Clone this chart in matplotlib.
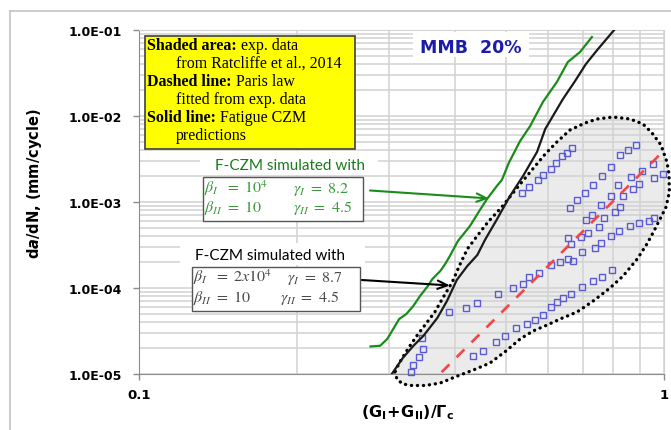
import matplotlib
matplotlib.use("Agg")
import matplotlib.pyplot as plt
from matplotlib.patches import Rectangle
from matplotlib.lines import Line2D
from matplotlib.ticker import LogLocator, NullFormatter

# ---------------- data ----------------
# Experimental scatter (Ratcliffe et al., 2014), MMB 20 %
exp_g = [0.330, 0.333, 0.342, 0.348, 0.346,
         0.390, 0.420, 0.440, 0.483, 0.515, 0.538, 0.554, 0.577, 0.609, 0.634, 0.655, 0.672,
         0.432, 0.453, 0.479, 0.498, 0.522, 0.548, 0.569, 0.588, 0.608, 0.626, 0.643, 0.666,
         0.698, 0.732, 0.763, 0.795,
         0.536, 0.554, 0.575, 0.588, 0.608, 0.623, 0.638, 0.653, 0.669,
         0.825, 0.853, 0.886, 0.793, 0.763, 0.733, 0.707, 0.684, 0.662,
         0.817, 0.865, 0.909, 0.952, 0.955, 0.997, 0.895, 0.874, 0.791, 0.836,
         0.760, 0.730, 0.710, 0.769, 0.808, 0.825, 0.696, 0.715, 0.753,
         0.657, 0.664, 0.698, 0.739, 0.760, 0.791, 0.820, 0.862, 0.897, 0.935, 0.957]
exp_rate = [1.06e-5, 1.28e-5, 1.56e-5, 1.93e-5, 2.59e-5,
            5.26e-5, 5.90e-5, 6.69e-5, 8.56e-5, 1.01e-4, 1.11e-4, 1.34e-4, 1.51e-4, 1.85e-4,
            1.99e-4, 2.19e-4, 2.04e-4,
            1.63e-5, 1.84e-5, 2.36e-5, 2.80e-5, 3.47e-5, 3.79e-5, 4.19e-5, 4.89e-5, 6.01e-5,
            6.82e-5, 7.59e-5, 8.47e-5, 1.04e-4, 1.21e-4, 1.36e-4, 1.61e-4,
            1.27e-3, 1.51e-3, 1.78e-3, 2.06e-3, 2.41e-3, 2.83e-3, 3.43e-3, 3.71e-3, 4.28e-3,
            3.54e-3, 3.99e-3, 4.60e-3, 2.57e-3, 1.99e-3, 1.56e-3, 1.27e-3, 1.06e-3, 8.47e-4,
            1.56e-3, 1.94e-3, 2.32e-3, 2.73e-3, 1.91e-3, 2.09e-3, 1.64e-3, 1.42e-3, 1.18e-3, 1.16e-3,
            9.18e-4, 7.12e-4, 6.18e-4, 6.48e-4, 7.55e-4, 8.70e-4, 3.92e-4, 4.36e-4, 5.09e-4,
            3.78e-4, 3.21e-4, 2.64e-4, 2.88e-4, 3.38e-4, 4.06e-4, 4.66e-4, 5.30e-4, 5.67e-4,
            5.97e-4, 6.57e-4]

# Envelope of the experimental scatter (closed contour)
env_g = [0.307, 0.310, 0.318, 0.331, 0.351, 0.375, 0.402, 0.433, 0.466, 0.500,
         0.532, 0.563, 0.599, 0.634, 0.683, 0.733, 0.789, 0.836, 0.889, 0.928,
         0.957, 0.983, 1.009, 1.024, 1.022, 1.013, 0.987, 0.949, 0.912, 0.862,
         0.800, 0.746, 0.707, 0.662, 0.625, 0.594, 0.558, 0.525, 0.491, 0.462,
         0.442, 0.422, 0.409, 0.395, 0.379, 0.366, 0.354, 0.338, 0.325, 0.314]
env_rate = [1.06e-5, 8.7e-6, 7.65e-6, 7.35e-6, 7.35e-6, 7.86e-6, 9.35e-6, 1.11e-5, 1.34e-5, 1.85e-5,
            2.55e-5, 3.16e-5, 3.71e-5, 4.36e-5, 5.26e-5, 7.06e-5, 1.0e-4, 1.38e-4, 2.17e-4, 3.25e-4,
            4.6e-4, 6.34e-4, 8.75e-4, 1.31e-3, 2.12e-3, 2.92e-3, 4.6e-3, 6.34e-3, 8.07e-3, 9.23e-3,
            9.73e-3, 9.23e-3, 8.29e-3, 6.87e-3, 4.98e-3, 3.62e-3, 2.29e-3, 1.46e-3, 8.75e-4, 5.85e-4,
            4.13e-4, 2.84e-4, 1.9e-4, 1.17e-4, 7.65e-5, 5.26e-5, 4.02e-5, 2.77e-5, 1.95e-5, 1.38e-5]

# Paris law fitted on the experimental data (end points of the straight log-log line)
paris_g = [0.377, 0.999]
paris_rate = [1.05e-5, 3.95e-3]

# Fatigue CZM, beta_I = 1e4, gamma_I = 8.2
czm1_g = [0.276, 0.288, 0.297, 0.305, 0.313, 0.323, 0.333, 0.343, 0.355, 0.362, 0.375, 0.383,
          0.391, 0.405, 0.427, 0.446, 0.460, 0.481, 0.491, 0.507, 0.532, 0.556, 0.588, 0.625,
          0.656, 0.692, 0.729]
czm1_rate = [2.09e-5, 2.13e-5, 2.55e-5, 3.34e-5, 4.36e-5, 4.98e-5, 6.18e-5, 8.07e-5, 1.055e-4,
             1.27e-4, 1.58e-4, 1.90e-4, 2.36e-4, 3.52e-4, 5.26e-4, 8.07e-4, 1.08e-3, 1.55e-3,
             1.80e-3, 2.9e-3, 5.12e-3, 7.65e-3, 1.455e-2, 2.485e-2, 4.245e-2, 5.55e-2, 8.29e-2]

# Fatigue CZM, beta_I = 2e4, gamma_I = 8.7
czm2_g = [0.303, 0.318, 0.333, 0.348, 0.370, 0.386, 0.403, 0.422, 0.441, 0.456, 0.481, 0.509,
          0.539, 0.573, 0.594, 0.642, 0.677, 0.710, 0.746, 0.807]
czm2_rate = [1.0e-5, 1.535e-5, 2.12e-5, 2.77e-5, 4.48e-5, 7.06e-5, 1.24e-4, 1.80e-4, 2.42e-4,
             3.62e-4, 6.34e-4, 1.175e-3, 2.01e-3, 3.82e-3, 7.06e-3, 1.576e-2, 2.55e-2, 4.02e-2,
             5.85e-2, 1.03e-1]

y_ticks = [1e-5, 1e-4, 1e-3, 1e-2, 1e-1]
y_tick_labels = ["1.0E-05", "1.0E-04", "1.0E-03", "1.0E-02", "1.0E-01"]
x_ticks = [0.1, 1.0]
x_tick_labels = ["0.1", "1"]

# ---------------- figure ----------------
plt.rcParams["mathtext.fontset"] = "custom"
plt.rcParams["mathtext.rm"] = "DejaVu Sans:bold"
plt.rcParams["mathtext.it"] = "DejaVu Sans:italic:bold"
plt.rcParams["mathtext.bf"] = "DejaVu Sans:bold"

W, H = 671, 431
fig = plt.figure(figsize=(W / 100, H / 100), dpi=100)


def fx(px):
    return px / W


def fy(py):
    return 1 - py / H


ax = fig.add_axes([fx(139), fy(375), 525 / W, 344 / H])
ax.set_xscale("log")
ax.set_yscale("log")
ax.set_xlim(0.1, 1.0)
ax.set_ylim(1e-5, 1e-1)

ax.set_axisbelow(True)
ax.xaxis.set_minor_locator(LogLocator(base=10, subs=range(2, 10)))
ax.yaxis.set_minor_locator(LogLocator(base=10, subs=range(2, 10), numticks=20))
ax.xaxis.set_minor_formatter(NullFormatter())
ax.yaxis.set_minor_formatter(NullFormatter())
ax.grid(which="both", color="#d2d2d2", lw=1.1)

ax.set_yticks(y_ticks)
ax.set_yticklabels(y_tick_labels, fontweight="bold", fontsize=9)
ax.set_xticks(x_ticks)
ax.set_xticklabels(x_tick_labels, fontweight="bold", fontsize=9.5)
ax.tick_params(axis="y", which="major", direction="out", length=4.5, width=1,
               color="#8c8c8c", pad=8)
ax.tick_params(axis="x", which="major", direction="out", length=4, width=1,
               color="#8c8c8c", pad=6)
ax.tick_params(which="minor", length=0)

for side in ("left", "bottom"):
    ax.spines[side].set_color("#8c8c8c")
for side in ("top", "right"):
    ax.spines[side].set_color("#d2d2d2")

# shaded experimental region and its dotted contour
ax.fill(env_g, env_rate, color="#ebebeb", lw=0, zorder=0.3, clip_on=False)
ax.plot(env_g + env_g[:1], env_rate + env_rate[:1], color="black", lw=2.4,
        linestyle=(0, (0.05, 1.75)), dash_capstyle="round", clip_on=False, zorder=3)

ax.plot(exp_g, exp_rate, ls="none", marker="s", ms=4.6, mfc="none", mec="#5a5ad2",
        mew=1.0, zorder=4, clip_on=False)
ax.plot(paris_g, paris_rate, color="#f04848", lw=1.9, dashes=(4.2, 3.8), zorder=5)
ax.plot(czm1_g, czm1_rate, color="#1a8c1a", lw=1.6, zorder=6)
ax.plot(czm2_g, czm2_rate, color="#1a1a1a", lw=1.6, zorder=6)

# axis labels
fig.text(fx(408), fy(413), r"$(\mathrm{G}_{\mathrm{I}}\!+\!\mathrm{G}_{\mathrm{II}})/\Gamma_{\mathrm{c}}$",
         ha="center", va="center", fontsize=11.5, fontweight="bold")
fig.text(fx(35), fy(183.5), r"d$a$/dN, (mm/cycle)", ha="center", va="center",
         rotation=90, fontsize=10.5, fontweight="bold")

# outer chart frame
fig.add_artist(Line2D([fx(10), fx(10)], [fy(12), 0], transform=fig.transFigure,
                      color="#c4c4c4", lw=1.2))
fig.add_artist(Line2D([fx(10), 1], [fy(12), fy(12)], transform=fig.transFigure,
                      color="#c4c4c4", lw=1.2))


def box(x0, y0, x1, y1, fc, ec="none", lw=1.0):
    fig.add_artist(Rectangle((fx(x0), fy(y1)), (x1 - x0) / W, (y1 - y0) / H,
                             transform=fig.transFigure, fc=fc, ec=ec, lw=lw, zorder=2))


# legend note box
box(145.3, 36.7, 355, 150, "#ffff00", "#404040", 1.2)
serif = "Liberation Serif"
note_lines = [
    ("Shaded area:", " exp. data", 147, 50),
    (None, "from Ratcliffe et al., 2014", 175.7, 68),
    ("Dashed line:", " Paris law", 147, 86.5),
    (None, "fitted from exp. data", 175.7, 104),
    ("Solid line:", " Fatigue CZM", 147, 121.7),
    (None, "predictions", 175.7, 140),
]
for bold, regular, x0, yb in note_lines:
    if bold is None:
        fig.text(fx(x0), fy(yb), regular, family=serif, fontsize=11.5,
                 ha="left", va="baseline", zorder=3)
    else:
        t = fig.text(fx(x0), fy(yb), bold, family=serif, fontsize=11.5,
                     fontweight="bold", ha="left", va="baseline", zorder=3)
        fig.texts.append(
            matplotlib.text.Annotation(regular, xy=(1, 0), xycoords=t, va="bottom",
                                       ha="left", family=serif, fontsize=11.5))
        fig.texts[-1].set_figure(fig)

# title tag
box(412.7, 32.7, 529, 58, "white")
fig.text(fx(470.8), fy(48.3), "MMB  20%", ha="center", va="center", fontsize=12.5,
         fontweight="bold", color="#1c1ca8", zorder=3)

# parameter boxes
box(200, 152, 378, 176, "white")
fig.text(fx(290.3), fy(166), "F-CZM simulated with", family="Lato", fontsize=11,
         color="#1a7a1a", ha="center", va="center", zorder=3)
box(202.7, 178.3, 363.3, 221.7, "white", "#555555", 1.0)
green_txt = "#3a9a3a"
for s, x0, yb in [(r"$\beta_{I}\ \ =\ 10^{4}$", 204, 193.5),
                  (r"$\gamma_{I}\ =\ 8.2$", 292.7, 193.5),
                  (r"$\beta_{II}\ =\ 10$", 204, 211.7),
                  (r"$\gamma_{II}\ =\ 4.5$", 292.7, 211.7)]:
    fig.text(fx(x0), fy(yb), s, math_fontfamily="stix", fontsize=11.5, color=green_txt,
             ha="left", va="baseline", zorder=3)

box(180, 244, 365, 266, "white")
fig.text(fx(270), fy(255.5), "F-CZM simulated with", family="Lato", fontsize=11,
         color="black", ha="center", va="center", zorder=3)
box(191.7, 268, 360, 311.5, "white", "#555555", 1.0)
grey_txt = "#4a4a4a"
for s, x0, yb in [(r"$\beta_{I}\ \ =\ 2x10^{4}$", 193, 282.5),
                  (r"$\gamma_{I}\ =\ 8.7$", 286.7, 282.5),
                  (r"$\beta_{II}\ =\ 10$", 193, 301.7),
                  (r"$\gamma_{II}\ =\ 4.5$", 280, 301.7)]:
    fig.text(fx(x0), fy(yb), s, math_fontfamily="stix", fontsize=11.5, color=grey_txt,
             ha="left", va="baseline", zorder=3)

# arrows from the parameter boxes to the curves
ax.annotate("", xy=(0.464, 1.10e-3), xycoords="data",
            xytext=(fx(370), fy(191.5)), textcoords="figure fraction",
            arrowprops=dict(arrowstyle="->,head_length=0.7,head_width=0.3",
                            color="#1a8c1a", lw=1.5, shrinkA=0, shrinkB=0),
            annotation_clip=False, zorder=7)
ax.annotate("", xy=(0.391, 1.07e-4), xycoords="data",
            xytext=(fx(361.7), fy(281)), textcoords="figure fraction",
            arrowprops=dict(arrowstyle="->,head_length=0.7,head_width=0.3",
                            color="black", lw=1.5, shrinkA=0, shrinkB=0),
            annotation_clip=False, zorder=7)

fig.savefig("out.png", dpi=100)
